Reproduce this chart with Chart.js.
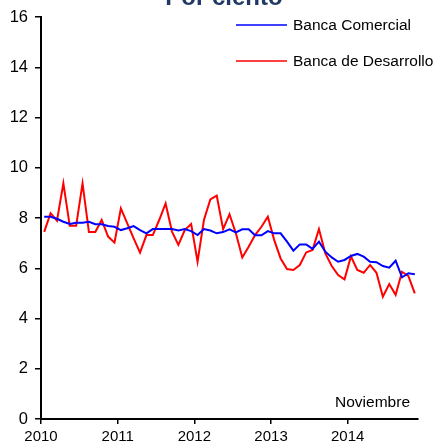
<!DOCTYPE html>
<html>
<head>
<meta charset="utf-8">
<script src="https://cdn.jsdelivr.net/npm/chart.js@4"></script>
<style>
  html, body { margin: 0; padding: 0; background: #fff; }
  #wrap { width: 435px; height: 443px; }
</style>
</head>
<body>
<div id="wrap"><canvas id="chart" width="435" height="443"></canvas></div>
<script>
// monthly rates, Jan 2010 - Nov 2014
const yearLabels = ['2010', '2011', '2012', '2013', '2014'];
const yTicks = [0, 2, 4, 6, 8, 10, 12, 14, 16];

const comercial = [
  8.05, 8.05, 7.97, 7.85, 7.76, 7.81, 7.81, 7.85, 7.75, 7.75, 7.68, 7.65,
  7.52, 7.59, 7.68, 7.52, 7.39, 7.56, 7.56, 7.56, 7.56, 7.50, 7.56, 7.48,
  7.32, 7.56, 7.50, 7.39, 7.44, 7.55, 7.43, 7.55, 7.55, 7.31, 7.31, 7.48,
  7.39, 7.39, 7.06, 6.70, 6.95, 6.95, 6.77, 7.06, 6.66, 6.43, 6.26, 6.33,
  6.49, 6.57, 6.46, 6.26, 6.24, 6.09, 6.02, 6.30, 5.64, 5.80, 5.76
];
const desarrollo = [
  7.45, 8.19, 7.89, 9.38, 7.69, 7.69, 9.38, 7.44, 7.44, 7.92, 7.26, 7.02,
  8.38, 7.79, 7.19, 6.62, 7.32, 7.32, 7.92, 8.58, 7.46, 6.93, 7.52, 7.76,
  6.26, 7.92, 8.74, 8.89, 7.56, 8.15, 7.39, 6.43, 6.86, 7.32, 7.65, 8.05,
  7.12, 6.39, 5.97, 5.93, 6.13, 6.63, 6.73, 7.56, 6.59, 6.09, 5.73, 5.56,
  6.47, 5.93, 5.82, 6.13, 5.82, 4.87, 5.37, 4.94, 5.86, 5.69, 5.00
];

const FONT = 'Arial, "Liberation Sans", sans-serif';

// each month sits in the middle of its slot on a 0..59 month axis
const toPoints = arr => arr.map((v, i) => ({ x: i + 0.5, y: v }));

const overlay = {
  id: 'overlay',
  afterDraw(chart) {
    const ctx = chart.ctx;
    ctx.save();
    // title, mostly cut off at the top
    ctx.fillStyle = '#1f3864';
    ctx.font = 'bold 24px ' + FONT;
    ctx.textAlign = 'center';
    ctx.textBaseline = 'alphabetic';
    ctx.fillText('Por ciento', 224, 5);

    // legend
    ctx.font = '15.5px ' + FONT;
    ctx.textAlign = 'left';
    ctx.textBaseline = 'middle';
    const rows = [25, 61];
    chart.data.datasets.forEach((ds, i) => {
      ctx.strokeStyle = ds.borderColor;
      ctx.lineWidth = 1.5;
      ctx.beginPath();
      ctx.moveTo(236, rows[i]);
      ctx.lineTo(287, rows[i]);
      ctx.stroke();
      ctx.fillStyle = '#000';
      ctx.fillText(ds.label, 293, rows[i] + 1);
    });

    ctx.font = '15.5px ' + FONT;
    ctx.textAlign = 'right';
    ctx.fillText('Noviembre', 410, 403);
    ctx.restore();
  }
};

new Chart(document.getElementById('chart'), {
  type: 'line',
  data: {
    datasets: [{
      label: 'Banca Comercial',
      data: toPoints(comercial),
      borderColor: '#0000ff',
      borderWidth: 2,
      pointRadius: 0,
      tension: 0
    }, {
      label: 'Banca de Desarrollo',
      data: toPoints(desarrollo),
      borderColor: '#ff0000',
      borderWidth: 2,
      pointRadius: 0,
      tension: 0
    }]
  },
  options: {
    responsive: false,
    animation: false,
    layout: { padding: { top: 17, right: 17, left: 0, bottom: 0 } },
    plugins: {
      legend: { display: false },
      tooltip: { enabled: false }
    },
    scales: {
      x: {
        type: 'linear',
        min: 0,
        max: comercial.length,
        afterBuildTicks: scale => {
          scale.ticks = yearLabels.map((_, i) => ({ value: i * 12 }));
        },
        afterFit: scale => { scale.height = 24; },
        border: { color: '#000', width: 2 },
        grid: { drawOnChartArea: false, color: '#000', lineWidth: 1.5, tickLength: 5 },
        ticks: {
          color: '#000',
          font: { family: FONT, size: 15 },
          padding: 4,
          maxRotation: 0,
          autoSkip: false,
          callback: v => yearLabels[v / 12]
        }
      },
      y: {
        min: 0,
        max: 16,
        afterBuildTicks: scale => {
          scale.ticks = yTicks.map(v => ({ value: v }));
        },
        afterFit: scale => { scale.width = 41; },
        border: { color: '#000', width: 2 },
        grid: { drawOnChartArea: false, color: '#000', lineWidth: 1.5, tickLength: 6 },
        ticks: {
          color: '#000',
          font: { family: FONT, size: 16.5 },
          padding: 7
        }
      }
    }
  },
  plugins: [overlay]
});
</script>
</body>
</html>
